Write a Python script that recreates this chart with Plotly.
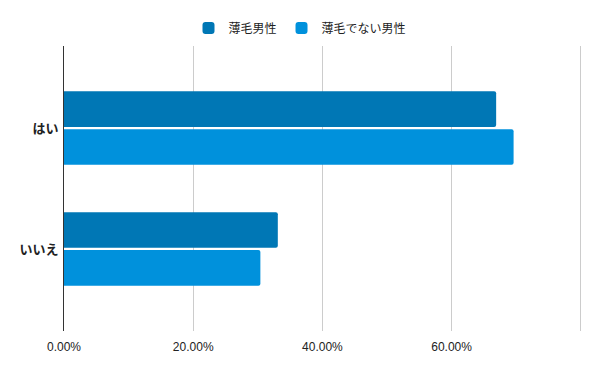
import plotly.graph_objects as go

categories = ["はい", "いいえ"]
series_names = ["薄毛男性", "薄毛でない男性"]
thin_values = [0.669, 0.331]
not_thin_values = [0.696, 0.304]
x_tick_vals = [0, 0.2, 0.4, 0.6, 0.8]
x_tick_text = ["0.00%", "20.00%", "40.00%", "60.00%", ""]
colors = ["#0077b5", "#0091dc"]

fig = go.Figure()
for name, vals, col in zip(series_names, [thin_values, not_thin_values], colors):
    fig.add_trace(go.Bar(
        y=categories, x=vals, name=name, orientation="h",
        marker=dict(color=col, line=dict(width=0)),
        hoverinfo="skip",
    ))

font_family = "Liberation Sans, Arial, Noto Sans CJK JP, sans-serif"
fig.update_layout(
    width=600, height=371,
    margin=dict(l=64, r=16, t=46, b=40, autoexpand=False),
    paper_bgcolor="white", plot_bgcolor="white",
    barmode="group", bargap=0.374, bargroupgap=0.06,
    barcornerradius=2,
    font=dict(family=font_family, size=12, color="#222"),
    showlegend=True,
    legend=dict(
        orientation="h", x=0.5, xanchor="center", xref="container",
        y=1 - 28 / 371, yanchor="middle", yref="container",
        font=dict(size=12, color="#222"),
        traceorder="normal", itemwidth=30,
    ),
    xaxis=dict(
        range=[0, 0.805], tickvals=x_tick_vals, ticktext=x_tick_text,
        showgrid=True, gridcolor="#cccccc", gridwidth=1,
        zeroline=False, showline=False,
        ticks="outside", ticklen=5, tickcolor="rgba(0,0,0,0)",
        tickfont=dict(size=12, color="#222"),
        fixedrange=True, automargin=False,
    ),
    yaxis=dict(
        categoryorder="array", categoryarray=categories,
        autorange=False, range=[1.678, -0.678],
        showline=True, linecolor="#333333", linewidth=1,
        showgrid=False, zeroline=False,
        ticks="outside", ticklen=2, tickcolor="rgba(0,0,0,0)",
        tickfont=dict(size=13, color="#222", family=font_family, weight="bold"),
        fixedrange=True, automargin=False,
    ),
)

fig.write_html("out.html", config={"displayModeBar": False},
               post_script="document.body.style.margin='0';")
